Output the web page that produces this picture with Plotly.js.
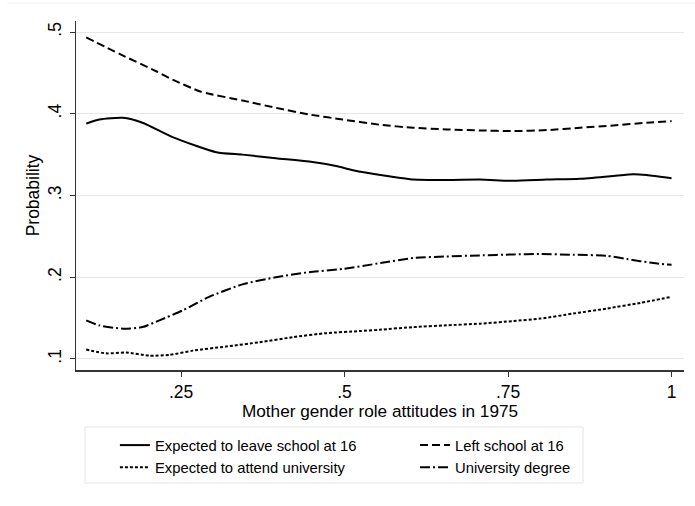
<!DOCTYPE html>
<html>
<head>
<meta charset="utf-8">
<script src="https://cdn.plot.ly/plotly-3.0.1.min.js"></script>
<style>html,body{margin:0;padding:0;background:#fff;}#chart{width:695px;height:506px;}</style>
</head>
<body>
<div id="chart"></div>
<script>
// Expected to leave school at 16 (solid)
const xLeaveExp = [0.105, 0.125, 0.161, 0.191, 0.237, 0.304, 0.344, 0.395, 0.446, 0.487, 0.513, 0.555, 0.600, 0.656, 0.707, 0.758, 0.809, 0.860, 0.911, 0.942, 0.962, 1.0];
const yLeaveExp = [0.388, 0.393, 0.395, 0.389, 0.3715, 0.353, 0.350, 0.3455, 0.3415, 0.336, 0.331, 0.325, 0.320, 0.319, 0.3195, 0.318, 0.3195, 0.3205, 0.324, 0.326, 0.325, 0.321];

// Left school at 16 (dashed)
const xLeft = [0.105, 0.156, 0.212, 0.237, 0.278, 0.293, 0.344, 0.395, 0.446, 0.497, 0.555, 0.605, 0.656, 0.707, 0.758, 0.809, 0.860, 0.911, 0.962, 1.0];
const yLeft = [0.4934, 0.4732, 0.452, 0.4418, 0.4276, 0.4244, 0.4162, 0.4073, 0.3991, 0.393, 0.3865, 0.3829, 0.3809, 0.3796, 0.3788, 0.380, 0.3829, 0.3857, 0.389, 0.391];

// Expected to attend university (dotted)
const xUnivExp = [0.105, 0.135, 0.166, 0.2015, 0.232, 0.268, 0.319, 0.370, 0.421, 0.472, 0.523, 0.554, 0.605, 0.656, 0.707, 0.758, 0.799, 0.850, 0.901, 0.952, 1.0];
const yUnivExp = [0.1115, 0.1069, 0.1078, 0.1041, 0.1049, 0.1102, 0.1152, 0.1205, 0.1267, 0.1316, 0.1341, 0.1358, 0.139, 0.1411, 0.1432, 0.1464, 0.1494, 0.1556, 0.1617, 0.1686, 0.176];

// University degree (dash-dot)
const xDegree = [0.105, 0.125, 0.161, 0.191, 0.217, 0.253, 0.293, 0.344, 0.395, 0.446, 0.497, 0.555, 0.605, 0.656, 0.707, 0.758, 0.799, 0.850, 0.901, 0.932, 0.972, 1.0];
const yDegree = [0.1473, 0.1411, 0.137, 0.139, 0.1473, 0.1596, 0.176, 0.1913, 0.200, 0.2062, 0.2102, 0.2173, 0.2235, 0.2254, 0.2267, 0.2279, 0.2284, 0.2275, 0.2263, 0.2222, 0.2173, 0.2152];

const seriesNames = ["Expected to leave school at 16", "Left school at 16", "Expected to attend university", "University degree"];

const xTickVals = [0.25, 0.5, 0.75, 1];
const xTickText = [".25", ".5", ".75", "1"];
const yTickVals = [0.1, 0.2, 0.3, 0.4, 0.5];
const yTickText = [".1", ".2", ".3", ".4", ".5"];

const FONT = "Liberation Sans, Arial, sans-serif";

function tr(x, y, name, dash, legendId) {
  return {
    x: x, y: y, name: name, type: "scatter", mode: "lines",
    legend: legendId,
    line: {color: "#000", width: 2, dash: dash, shape: "spline", smoothing: 0.6},
    hoverinfo: "skip"
  };
}

const data = [
  tr(xLeaveExp, yLeaveExp, seriesNames[0], "solid", "legend"),
  tr(xLeft, yLeft, seriesNames[1], "8px,4px", "legend2"),
  tr(xUnivExp, yUnivExp, seriesNames[2], "3px,2px", "legend"),
  tr(xDegree, yDegree, seriesNames[3], "10px,3px,2px,3px", "legend2")
];

const legendCommon = {
  orientation: "v",
  yanchor: "top", xanchor: "left",
  y: -0.169,
  bgcolor: "rgba(0,0,0,0)", borderwidth: 0,
  font: {size: 14.8, family: FONT},
  tracegroupgap: 0
};

const layout = {
  width: 695, height: 506,
  margin: {l: 76, r: 11, t: 21, b: 136},
  paper_bgcolor: "#fff", plot_bgcolor: "#fff",
  font: {family: FONT, color: "#000", size: 13},
  showlegend: true,
  xaxis: {
    range: [0.0894, 1.019],
    tickvals: xTickVals, ticktext: xTickText,
    ticks: "outside", ticklen: 5, tickwidth: 1, tickcolor: "#333",
    ticklabelstandoff: 0,
    showline: true, linecolor: "#333", linewidth: 1.5,
    showgrid: false, zeroline: false,
    tickfont: {size: 17.5, family: FONT},
    title: {text: "Mother gender role attitudes in 1975", font: {size: 17.2, family: FONT}, standoff: 0}
  },
  yaxis: {
    range: [0.0865, 0.5135],
    tickvals: yTickVals, ticktext: yTickText,
    tickangle: -90,
    ticks: "outside", ticklen: 5, tickwidth: 1, tickcolor: "#333",
    ticklabelstandoff: 2,
    showline: true, linecolor: "#333", linewidth: 1.5,
    showgrid: true, gridcolor: "#e6e6e6", gridwidth: 1,
    zeroline: false,
    tickfont: {size: 17.5, family: FONT},
    title: {text: "Probability", font: {size: 17.5, family: FONT}, standoff: 0}
  },
  legend: Object.assign({}, legendCommon, {x: 0.064}),
  legend2: Object.assign({}, legendCommon, {x: 0.5576}),
  shapes: [
    {type: "line", xref: "paper", yref: "paper", x0: -0.113, x1: 1.02, y0: 1.0516, y1: 1.0516,
     line: {color: "#eeeeee", width: 1}},
    {type: "rect", xref: "paper", yref: "paper", x0: 0.0148, x1: 0.8339, y0: -0.1633, y1: -0.3238,
     line: {color: "#e4e4e4", width: 1}, fillcolor: "rgba(0,0,0,0)"}
  ]
};

Plotly.newPlot("chart", data, layout, {displayModeBar: false, staticPlot: true});
</script>
</body>
</html>
